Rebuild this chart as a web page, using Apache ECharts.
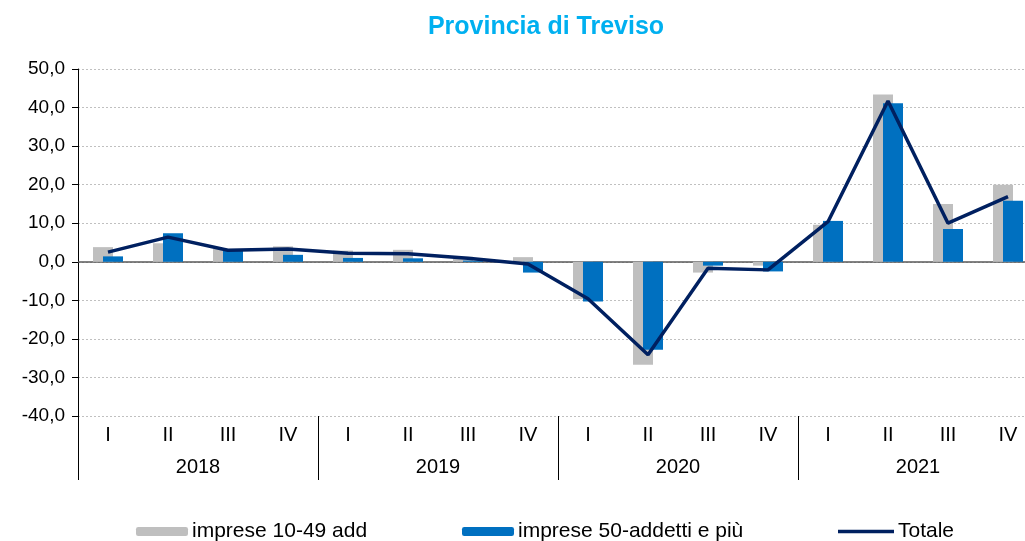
<!DOCTYPE html>
<html>
<head>
<meta charset="utf-8">
<script src="https://cdn.jsdelivr.net/npm/echarts@6/dist/echarts.min.js"></script>
<style>
  html, body { margin: 0; padding: 0; background: #fff; overflow: hidden; width: 1025px; height: 541px; }
  /* the plot area runs past the right edge in the original, so the canvas is a bit wider and clipped */
  #chart { width: 1038px; height: 541px; }
</style>
</head>
<body>
<div id="chart"></div>
<script>
const quarters = ['I', 'II', 'III', 'IV', 'I', 'II', 'III', 'IV', 'I', 'II', 'III', 'IV', 'I', 'II', 'III', 'IV']
const years = ['2018', '2019', '2020', '2021']
const piccole = [3.8, 4.8, 3.3, 4.0, 2.9, 3.1, 1.3, 1.2, -9.7, -26.7, -2.8, -1.0, 9.6, 43.4, 15.0, 20.0]
const grandi = [1.4, 7.4, 3.1, 1.8, 1.0, 0.9, 0.3, -2.8, -10.3, -22.8, -1.0, -2.5, 10.6, 41.1, 8.5, 15.8]
const totale = [2.5, 6.4, 3.0, 3.3, 2.2, 2.1, 0.9, -0.6, -9.6, -24.1, -1.7, -2.1, 10.4, 41.7, 10.0, 16.9]

const font = 'Liberation Sans, Arial, sans-serif'
const chart = echarts.init(document.getElementById('chart'))

const legendBase = {
  top: 516,
  itemGap: 0,
  itemHeight: 9,
  itemWidth: 52,
  textStyle: { fontFamily: font, fontSize: 21, color: '#000', padding: [0, 0, 0, -1] },
  selectedMode: false,
}

chart.setOption({
  animation: false,
  title: {
    text: 'Provincia di Treviso',
    left: 541,
    top: 10,
    textAlign: 'center',
    textStyle: { fontFamily: font, fontSize: 25, fontWeight: 'bold', color: '#00B0F0' },
  },
  legend: [
    { ...legendBase, left: 131, data: ['imprese 10-49 add'] },
    { ...legendBase, left: 457, data: ['imprese 50-addetti e più'] },
    {
      ...legendBase,
      left: 833,
      itemWidth: 56,
      itemHeight: 3.5,
      data: [{ name: 'Totale', icon: 'rect' }],
    },
  ],
  grid: { left: 78, right: 0, top: 69, bottom: 125 },
  xAxis: [
    {
      type: 'category',
      data: quarters,
      axisLine: { show: false },
      axisTick: { show: false },
      axisLabel: { margin: 9, fontFamily: font, fontSize: 20, color: '#000', interval: 0 },
    },
    {
      type: 'category',
      data: years,
      position: 'bottom',
      axisLine: { show: false },
      axisTick: { show: true, length: 64, interval: 0, lineStyle: { color: '#000', width: 1 } },
      axisLabel: { margin: 41, fontFamily: font, fontSize: 20, color: '#000', interval: 0 },
    },
  ],
  yAxis: {
    type: 'value',
    min: -40,
    max: 50,
    interval: 10,
    axisLine: { show: true, lineStyle: { color: '#000', width: 1 } },
    axisTick: { show: true, length: 6, lineStyle: { color: '#000' } },
    axisLabel: {
      margin: 13,
      fontFamily: font,
      fontSize: 19,
      color: '#000',
      formatter: v => v.toFixed(1).replace('.', ','),
    },
    splitLine: { show: true, lineStyle: { color: '#C0C0C0', type: [2, 2], width: 1 } },
  },
  series: [
    {
      name: 'imprese 10-49 add',
      type: 'bar',
      xAxisIndex: 0,
      data: piccole,
      barWidth: 20,
      barGap: '-50%',
      itemStyle: { color: '#BFBFBF' },
    },
    {
      name: 'imprese 50-addetti e più',
      type: 'bar',
      xAxisIndex: 0,
      data: grandi,
      barWidth: 20,
      itemStyle: { color: '#0070C0' },
    },
    {
      name: 'Totale',
      type: 'line',
      xAxisIndex: 0,
      data: totale,
      symbol: 'none',
      z: 5,
      lineStyle: { color: '#002060', width: 3.5 },
      itemStyle: { color: '#002060' },
      markLine: {
        silent: true,
        symbol: 'none',
        label: { show: false },
        lineStyle: { color: '#595959', width: 1.5, type: 'solid' },
        data: [{ yAxis: 0 }],
        z: 1,
      },
    },
  ],
})
</script>
</body>
</html>
